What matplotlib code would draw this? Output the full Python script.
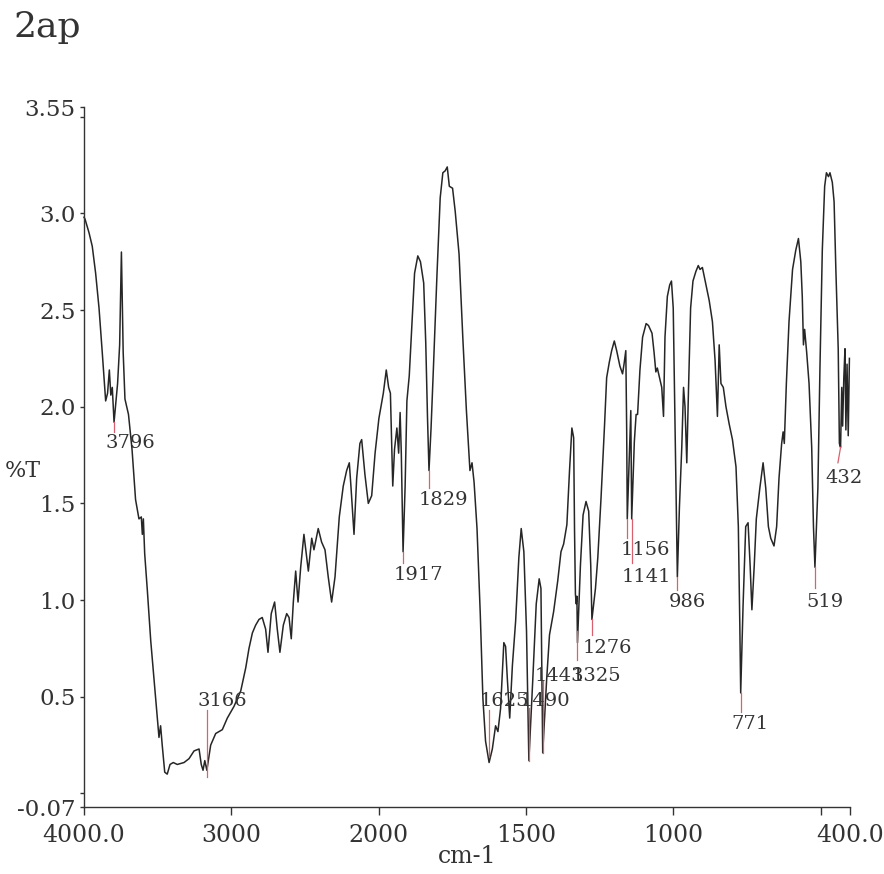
import matplotlib.pyplot as plt
import numpy as np

# IR spectrum of 2ap (cm-1, %T)
wavenumber = [
    4000, 3993, 3966, 3944, 3921, 3898, 3876, 3853, 3840, 3828, 3818, 3808, 3796,
    3772, 3758, 3746, 3734, 3722, 3698, 3674, 3650, 3627, 3611, 3604, 3597, 3588,
    3570, 3547, 3513, 3491, 3480, 3469, 3452, 3435, 3416, 3394, 3367, 3321, 3287,
    3253, 3219, 3204, 3192, 3180, 3166, 3150, 3140, 3106, 3061, 3027, 2982, 2936,
    2902, 2880, 2857, 2835, 2812, 2790, 2767, 2751, 2729, 2706, 2688, 2670, 2647,
    2624, 2608, 2593, 2579, 2563, 2547, 2529, 2507, 2477, 2454, 2439, 2410, 2387,
    2364, 2342, 2319, 2296, 2267, 2240, 2217, 2199, 2188, 2167, 2149, 2127, 2115,
    2093, 2070, 2047, 2024, 1999, 1984, 1974, 1966, 1960, 1955, 1952, 1946, 1938,
    1932, 1927, 1923, 1917, 1910, 1904, 1896, 1887, 1878, 1867, 1858, 1847, 1840,
    1834, 1829, 1822, 1814, 1802, 1791, 1782, 1774, 1767, 1760, 1749, 1740, 1727,
    1714, 1702, 1690, 1683, 1676, 1666, 1655, 1646, 1637, 1625, 1614, 1603, 1595,
    1586, 1575, 1569, 1563, 1555, 1546, 1535, 1524, 1516, 1507, 1498, 1490, 1477,
    1465, 1455, 1449, 1446, 1443, 1430, 1420, 1406, 1392, 1381, 1372, 1361, 1352,
    1344, 1338, 1335, 1332, 1329, 1327, 1325, 1315, 1306, 1296, 1287, 1280, 1276,
    1264, 1256, 1245, 1233, 1226, 1217, 1209, 1200, 1192, 1181, 1172, 1167, 1161,
    1158, 1156, 1148, 1144, 1141, 1132, 1126, 1121, 1113, 1104, 1092, 1084, 1072,
    1065, 1059, 1054, 1045, 1039, 1033, 1028, 1020, 1012, 1006, 1000, 995, 990,
    986, 979, 971, 965, 960, 954, 948, 941, 933, 923, 915, 909, 901, 889, 878,
    867, 858, 850, 844, 838, 830, 821, 810, 799, 787, 779, 774, 771, 763, 754,
    746, 739, 733, 725, 718, 706, 695, 686, 677, 669, 658, 649, 641, 632, 627,
    623, 616, 607, 595, 584, 575, 567, 562, 558, 554, 547, 539, 530, 524, 519,
    509, 502, 494, 486, 480, 473, 468, 460, 454, 448, 440, 436, 432, 428, 425,
    421, 417, 414, 410, 406, 402,
]
transmittance = [
    2.98, 2.97, 2.90, 2.83, 2.69, 2.51, 2.28, 2.03, 2.07, 2.19, 2.06, 2.10, 1.92,
    2.12, 2.32, 2.80, 2.28, 2.04, 1.96, 1.78, 1.52, 1.42, 1.43, 1.34, 1.42, 1.24,
    1.05, 0.79, 0.49, 0.29, 0.35, 0.25, 0.11, 0.10, 0.15, 0.16, 0.15, 0.16, 0.18,
    0.22, 0.23, 0.15, 0.12, 0.17, 0.12, 0.20, 0.25, 0.31, 0.33, 0.39, 0.45, 0.53,
    0.65, 0.75, 0.83, 0.87, 0.90, 0.91, 0.85, 0.73, 0.93, 0.99, 0.85, 0.73, 0.87,
    0.93, 0.91, 0.80, 0.99, 1.15, 0.99, 1.17, 1.34, 1.15, 1.32, 1.26, 1.37, 1.30,
    1.26, 1.12, 0.99, 1.12, 1.43, 1.59, 1.67, 1.71, 1.59, 1.34, 1.63, 1.81, 1.83,
    1.65, 1.50, 1.54, 1.76, 1.94, 2.07, 2.19, 2.10, 2.07, 1.78, 1.59, 1.78, 1.89,
    1.76, 1.97, 1.76, 1.25, 1.59, 2.03, 2.16, 2.42, 2.69, 2.78, 2.75, 2.64, 2.33,
    1.94, 1.67, 1.89, 2.20, 2.68, 3.08, 3.21, 3.22, 3.24, 3.14, 3.13, 3.01, 2.79,
    2.35, 1.98, 1.67, 1.71, 1.61, 1.37, 0.93, 0.49, 0.27, 0.16, 0.23, 0.35, 0.32,
    0.44, 0.78, 0.76, 0.59, 0.39, 0.66, 0.89, 1.22, 1.37, 1.25, 0.84, 0.17, 0.58,
    0.98, 1.11, 1.06, 0.66, 0.21, 0.58, 0.82, 0.94, 1.10, 1.25, 1.29, 1.39, 1.67,
    1.89, 1.84, 1.36, 1.03, 0.98, 1.02, 0.78, 1.18, 1.44, 1.51, 1.46, 1.18, 0.90,
    1.06, 1.22, 1.53, 1.91, 2.15, 2.23, 2.29, 2.34, 2.29, 2.21, 2.17, 2.22, 2.29,
    1.88, 1.42, 1.79, 1.98, 1.42, 1.82, 1.96, 1.96, 2.19, 2.36, 2.43, 2.42, 2.38,
    2.28, 2.18, 2.20, 2.14, 2.10, 1.95, 2.36, 2.57, 2.63, 2.65, 2.51, 2.00, 1.48,
    1.12, 1.48, 1.79, 2.10, 2.00, 1.71, 2.10, 2.51, 2.65, 2.70, 2.73, 2.71, 2.72,
    2.63, 2.55, 2.44, 2.24, 1.95, 2.32, 2.12, 2.10, 2.00, 1.91, 1.83, 1.69, 1.38,
    0.87, 0.52, 0.97, 1.38, 1.40, 1.18, 0.95, 1.18, 1.42, 1.58, 1.71, 1.58, 1.38,
    1.32, 1.28, 1.38, 1.63, 1.81, 1.87, 1.81, 2.12, 2.44, 2.71, 2.81, 2.87, 2.75,
    2.57, 2.32, 2.40, 2.28, 2.12, 1.79, 1.38, 1.17, 1.58, 2.20, 2.81, 3.14, 3.21,
    3.19, 3.21, 3.16, 3.06, 2.71, 2.30, 1.81, 1.79, 2.10, 1.90, 2.15, 2.30, 1.88,
    2.22, 1.85, 2.25,
]

# peak picks: marker line ends and label centre
peak_labels = ['3796', '3166', '1917', '1829', '1625', '1490', '1443', '1325',
               '1276', '1156', '1141', '986', '771', '519', '432']
line_w0 = [3796, 3166, 1917, 1829, 1625, 1490, 1443, 1325, 1276, 1156, 1141, 986, 771, 519, 432]
line_w1 = [3796, 3166, 1917, 1829, 1625, 1490, 1443, 1325, 1276, 1156, 1141, 986, 771, 519, 441]
line_t0 = [1.92, 0.43, 1.25, 1.67, 0.43, 0.44, 0.58, 0.84, 0.90, 1.42, 1.42, 1.12, 0.52, 1.17, 1.79]
line_t1 = [1.87, 0.087, 1.19, 1.58, 0.19, 0.17, 0.21, 0.69, 0.82, 1.32, 1.19, 1.05, 0.42, 1.06, 1.71]
text_w = [3688, 3063, 1866, 1779, 1574, 1434, 1385, 1261, 1225, 1096, 1091, 952, 739, 485, 421]
text_t = [1.81, 0.48, 1.13, 1.52, 0.48, 0.48, 0.61, 0.61, 0.75, 1.26, 1.12, 0.99, 0.36, 0.99, 1.63]

x_ticks = [4000, 3000, 2000, 1500, 1000, 500, 400]
x_ticklabels = ['4000.0', '3000', '2000', '1500', '1000', '', '400.0']
y_ticks = [3.55, 3.5, 3.0, 2.5, 2.0, 1.5, 1.0, 0.5, 0.0, -0.07]
y_ticklabels = ['3.55', '', '3.0', '2.5', '2.0', '1.5', '1.0', '0.5', '', '-0.07']


# the spectrometer doubles the scale below 2000 cm-1
def forward(w):
    w = np.asarray(w, dtype=float)
    return np.where(w >= 2000, w, 2 * w - 2000)


def inverse(v):
    v = np.asarray(v, dtype=float)
    return np.where(v >= 2000, v, (v + 2000) / 2)


plt.rcParams['font.family'] = 'DejaVu Serif'
txt = '#333333'

fig = plt.figure(figsize=(8.84, 8.74), dpi=100)
ax = fig.add_axes([84 / 884, 67 / 874, 766 / 884, 700 / 874])
ax.set_xscale('function', functions=(forward, inverse))

ax.plot(wavenumber, transmittance, color='#262626', lw=1.1, clip_on=False)

for i in range(len(peak_labels)):
    ax.plot([line_w0[i], line_w1[i]], [line_t0[i], line_t1[i]], color='#d9606e', lw=0.9)
    ax.text(text_w[i], text_t[i], peak_labels[i], ha='center', va='center',
            fontsize=14, color=txt)

ax.set_xlim(4000, 400)
ax.set_ylim(-0.07, 3.55)
ax.set_xticks(x_ticks)
ax.set_xticklabels(x_ticklabels)
ax.set_yticks(y_ticks)
ax.set_yticklabels(y_ticklabels)
ax.minorticks_off()

for s in ['top', 'right']:
    ax.spines[s].set_visible(False)
for s in ['left', 'bottom']:
    ax.spines[s].set_color('#333333')
    ax.spines[s].set_linewidth(1.0)

ax.tick_params(axis='x', direction='out', length=6, width=1, pad=6,
               labelsize=17, colors='#333333')
ax.tick_params(axis='y', direction='out', length=3, width=1, pad=3,
               labelsize=16.5, colors='#333333')

fig.text(13 / 884, 1 - 37 / 874, '2ap', fontsize=26, va='baseline', color=txt)
fig.text(41 / 884, 1 - 471 / 874, '%T', fontsize=16, ha='right', va='center', color=txt)
fig.text(467 / 884, 1 - 863 / 874, 'cm-1', fontsize=17, ha='center', va='baseline', color=txt)

fig.savefig('out.png', dpi=100)
